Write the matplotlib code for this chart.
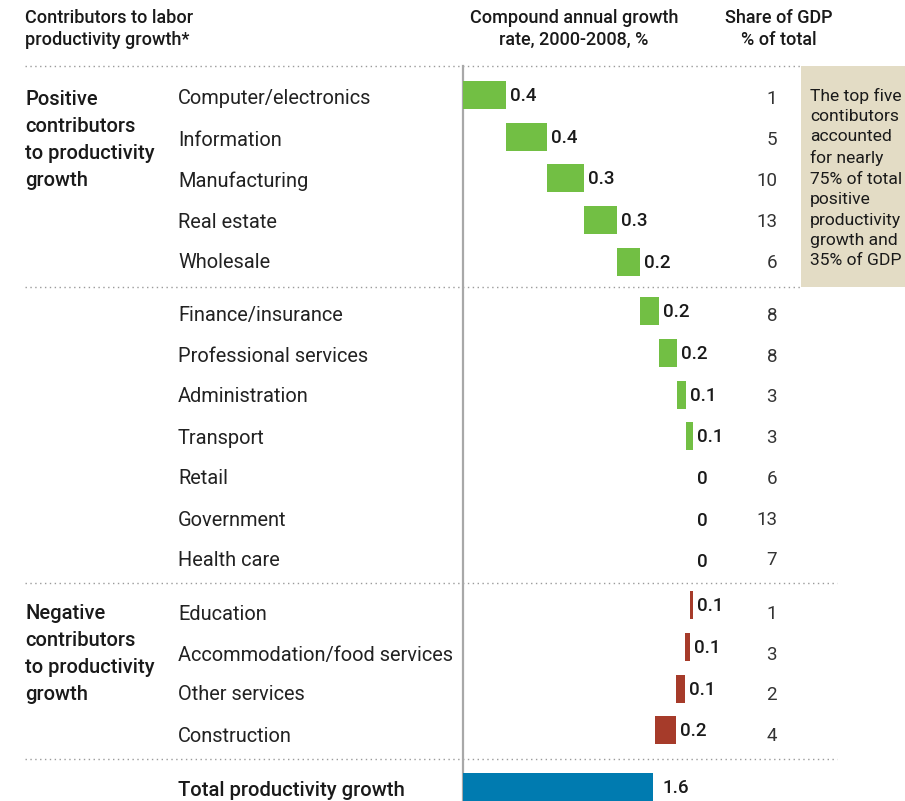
import matplotlib
matplotlib.use("Agg")
import matplotlib.pyplot as plt
import matplotlib.transforms as mtransforms

# ---------------- data ----------------
categories = ["Computer/electronics", "Information", "Manufacturing", "Real estate", "Wholesale",
              "Finance/insurance", "Professional services", "Administration", "Transport",
              "Retail", "Government", "Health care",
              "Education", "Accommodation/food services", "Other services", "Construction"]
values = [0.36, 0.35, 0.31, 0.28, 0.19,
          0.16, 0.15, 0.08, 0.06,
          0.0, 0.0, 0.0,
          -0.03, -0.04, -0.08, -0.17]
value_labels = ["0.4", "0.4", "0.3", "0.3", "0.2",
                "0.2", "0.2", "0.1", "0.1",
                "0", "0", "0",
                "0.1", "0.1", "0.1", "0.2"]
gdp_share = ["1", "5", "10", "13", "6",
             "8", "8", "3", "3", "6", "13", "7",
             "1", "3", "2", "4"]
total_label = "Total productivity growth"
total_value = 1.6
total_value_label = "1.6"

# ---------------- layout ----------------
W, H = 905, 801
bar_y = [95, 137, 178, 220, 262,
         311, 353, 395, 436, 478, 520, 561,
         605, 647, 689, 730]
text_y = [99, 140, 181, 222, 263,
          316, 357, 397, 438, 479, 520, 560,
          614, 655, 695, 736]
total_bar_y = 787
total_text_y = 790
px_per_unit = 118.75
x0 = 463

GREEN = "#72bf44"
RED = "#a63b2a"
BLUE = "#007bb0"
BEIGE = "#e3dcc5"
TXT = "#1a1a1a"

plt.rcParams['font.family'] = ['Roboto', 'DejaVu Sans']

fig = plt.figure(figsize=(W / 100, H / 100), dpi=100)
fig.patch.set_facecolor("white")

# layout axes in pixel coordinates
lay = fig.add_axes([0, 0, 1, 1])
lay.set_xlim(0, W)
lay.set_ylim(H, 0)
lay.axis("off")

# data axes for bars (x in growth units, y in pixel rows)
ax = fig.add_axes([0, 0, 1, 1])
ax.set_xlim(-x0 / px_per_unit, (W - x0) / px_per_unit)
ax.set_ylim(H, 0)
ax.axis("off")
ax.patch.set_alpha(0)

# beige box
lay.add_patch(plt.Rectangle((801, 66), W - 801, 221, facecolor=BEIGE, edgecolor="none", zorder=0))
box_text = "The top five\ncontibutors\naccounted\nfor nearly\n75% of total\npositive\nproductivity\ngrowth and\n35% of GDP"
lay.text(810, 178, box_text, fontsize=12.6, color=TXT, va="center", ha="left", linespacing=1.45)

# dotted separators
for y, xe in [(66, 801), (287, 801), (583, 837), (759, 837)]:
    lay.plot([25, xe], [y, y], color="#9a9a9a", lw=1.0, linestyle=(0, (1, 2.5)), zorder=1)

# vertical axis line
lay.plot([x0, x0], [66, H], color="#a8a8a8", lw=1.6, zorder=3)

# headers
hdr = dict(fontsize=13, fontweight="medium", color=TXT, va="center", linespacing=1.33)
lay.text(25, 29, "Contributors to labor\nproductivity growth*", ha="left", **hdr)
lay.text(574, 29, "Compound annual growth\nrate, 2000-2008, %", ha="center", **hdr)
lay.text(779, 29, "Share of GDP\n% of total", ha="center", **hdr)

# group labels
grp = dict(fontsize=14.5, fontweight="medium", color=TXT, ha="left", va="center", linespacing=1.55)
lay.text(25, 140, "Positive\ncontributors\nto productivity\ngrowth", **grp)
lay.text(25, 654, "Negative\ncontributors\nto productivity\ngrowth", **grp)

# waterfall bars
cum = 0.0
for i, v in enumerate(values):
    start = cum
    end = cum + v
    color = GREEN if v >= 0 else RED
    if v != 0:
        ax.barh(bar_y[i], v, left=start, height=28, color=color, edgecolor="none", zorder=2)
    label_x = max(start, end)
    ax.text(label_x, bar_y[i] + 1, value_labels[i], fontsize=13.5, fontweight="medium",
            color=TXT, ha="left", va="center",
            transform=ax.transData + mtransforms.ScaledTranslation(4 / 100, 0, fig.dpi_scale_trans))
    lay.text(178, text_y[i], categories[i], fontsize=14.4, color="#222222", ha="left", va="center")
    lay.text(777, text_y[i], gdp_share[i], fontsize=13.5, color="#333333", ha="right", va="center")
    cum = end

# total bar
ax.barh(total_bar_y, total_value, left=0, height=28, color=BLUE, edgecolor="none", zorder=2)
ax.text(total_value, total_bar_y + 1, total_value_label, fontsize=13.5, fontweight="medium", color=TXT,
        ha="left", va="center",
        transform=ax.transData + mtransforms.ScaledTranslation(9 / 100, 0, fig.dpi_scale_trans))
lay.text(178, total_text_y, total_label, fontsize=14.6, fontweight="medium", color=TXT, ha="left", va="center")

fig.savefig("out.png", dpi=100, facecolor="white")
